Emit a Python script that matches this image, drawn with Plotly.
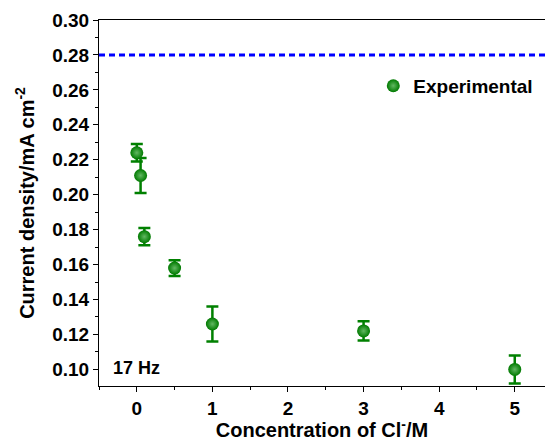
import plotly.graph_objects as go

# Current density vs. chloride concentration at 17 Hz
concentration = [0.0, 0.05, 0.1, 0.5, 1.0, 3.0, 5.0]
current_density = [0.224, 0.211, 0.176, 0.158, 0.126, 0.122, 0.100]
error = [0.005, 0.010, 0.005, 0.0045, 0.010, 0.0055, 0.008]
reference_level = 0.28

x_ticks = [0, 1, 2, 3, 4, 5]
y_ticks = [0.10, 0.12, 0.14, 0.16, 0.18, 0.20, 0.22, 0.24, 0.26, 0.28, 0.30]

GREEN = "#008000"
FONT = "Liberation Sans, Arial, sans-serif"

fig = go.Figure()

# horizontal reference line across the whole x range
fig.add_shape(
    type="line", xref="paper", x0=0, x1=1, yref="y",
    y0=reference_level, y1=reference_level,
    line=dict(color="#0000ff", width=3, dash="6px,4px"),
)

fig.add_trace(go.Scatter(
    x=concentration, y=current_density, mode="markers",
    name="<b>Experimental</b>",
    marker=dict(size=13, color="#007a00",
                gradient=dict(type="radial", color="#62b862"),
                line=dict(width=0)),
    error_y=dict(type="data", array=error, visible=True,
                 color=GREEN, thickness=2.5, width=6),
    cliponaxis=False,
))

fig.add_annotation(
    xref="paper", yref="paper", x=0.027, y=0.05, xanchor="left", yanchor="middle",
    text="<b>17 Hz</b>", showarrow=False,
    font=dict(family=FONT, size=18, color="black"),
)

axis_common = dict(
    showgrid=False, zeroline=False, showline=True, linecolor="black", linewidth=1,
    ticks="outside", ticklen=5, tickwidth=1, tickcolor="black",
    tickfont=dict(family=FONT, size=19, color="black"),
)

fig.update_xaxes(
    **axis_common,
    range=[-0.5, 5.4], tickvals=x_ticks, ticktext=[f"<b>{v}</b>" for v in x_ticks],
    mirror=True,
    minor=dict(dtick=0.5, ticks="outside", ticklen=3, tickcolor="black"),
    title=dict(text="<b>Concentration of Cl<sup>-</sup>/M</b>",
               font=dict(family=FONT, size=20, color="black"), standoff=4),
)
fig.update_yaxes(
    **axis_common,
    range=[0.0905, 0.30], tickvals=y_ticks,
    ticktext=[f"<b>{v:.2f}</b>" for v in y_ticks],
    minor=dict(dtick=0.01, tick0=0.10, ticks="outside", ticklen=3, tickcolor="black"),
    title=dict(text="<b>Current density/mA cm<sup>-2</sup></b>",
               font=dict(family=FONT, size=20, color="black"), standoff=12),
)

fig.update_layout(
    width=545, height=441,
    margin=dict(l=99, r=0, t=20, b=55),
    plot_bgcolor="white", paper_bgcolor="white",
    showlegend=True,
    legend=dict(x=0.615, y=0.82, xanchor="left", yanchor="middle",
                bgcolor="rgba(0,0,0,0)", itemwidth=30,
                font=dict(family=FONT, size=19, color="black")),
)

fig.write_html("out.html")
